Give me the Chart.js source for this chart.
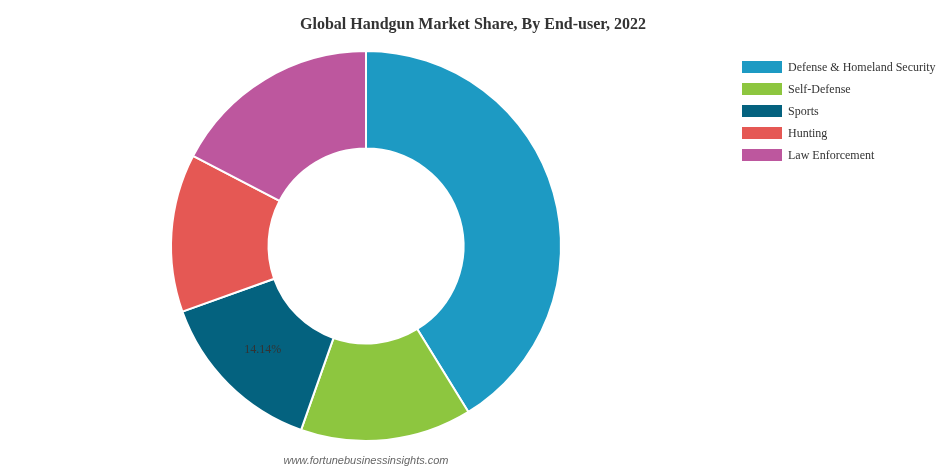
<!DOCTYPE html>
<html>
<head>
<meta charset="utf-8">
<script src="https://cdn.jsdelivr.net/npm/chart.js@4/dist/chart.umd.min.js"></script>
<style>
  html, body { margin: 0; padding: 0; background: #fff; }
  #wrap { width: 946px; height: 473px; position: relative; }
</style>
</head>
<body>
<div id="wrap"><canvas id="grafico" width="946" height="473"></canvas></div>
<script>
const categorias = ['Defense & Homeland Security', 'Self-Defense', 'Sports', 'Hunting', 'Law Enforcement'];
const valores = [41.2, 14.2, 14.14, 13.1, 17.36];
const cores = ['#1d9ac3', '#8dc63f', '#04627f', '#e55854', '#bd579e'];
const rotulos = ['', '', '14.14%', '', ''];

const titulo = 'Global Handgun Market Share, By End-user, 2022';
const marcaDagua = 'www.fortunebusinessinsights.com';

// desenha titulo, legenda, rotulo e marca d'agua
const extras = {
  id: 'extras',
  afterDraw(chart) {
    const ctx = chart.ctx;
    ctx.save();
    ctx.fillStyle = '#333';
    ctx.font = 'bold 16px "Liberation Serif", "Times New Roman", serif';
    ctx.textAlign = 'center';
    ctx.textBaseline = 'middle';
    ctx.fillText(titulo, 473, 25);

    // legenda
    ctx.textAlign = 'left';
    ctx.font = '12px "Liberation Serif", "Times New Roman", serif';
    categorias.forEach((c, i) => {
      const y = 67 + i * 22;
      ctx.fillStyle = cores[i];
      ctx.fillRect(742, y - 6, 40, 12);
      ctx.fillStyle = '#333';
      ctx.fillText(c, 788, y + 1);
    });

    // rotulos dos setores
    const meta = chart.getDatasetMeta(0);
    ctx.textAlign = 'center';
    ctx.fillStyle = '#333';
    meta.data.forEach((arc, i) => {
      if (!rotulos[i]) return;
      const p = arc.tooltipPosition();
      ctx.fillText(rotulos[i], p.x, p.y);
    });

    ctx.font = 'italic 11px "Liberation Sans", Arial, sans-serif';
    ctx.fillStyle = '#666';
    ctx.fillText(marcaDagua, 366, 461);
    ctx.restore();
  }
};

const ctx = document.getElementById('grafico').getContext('2d');
new Chart(ctx, {
  type: 'doughnut',
  data: {
    labels: categorias,
    datasets: [{
      data: valores,
      backgroundColor: cores,
      borderColor: '#fff',
      borderWidth: 2
    }]
  },
  options: {
    responsive: false,
    animation: false,
    cutout: '50%',
    layout: { padding: { left: 170, right: 384, top: 50, bottom: 31 } },
    plugins: {
      legend: { display: false },
      title: { display: false },
      tooltip: { enabled: false }
    }
  },
  plugins: [extras]
});
</script>
</body>
</html>
